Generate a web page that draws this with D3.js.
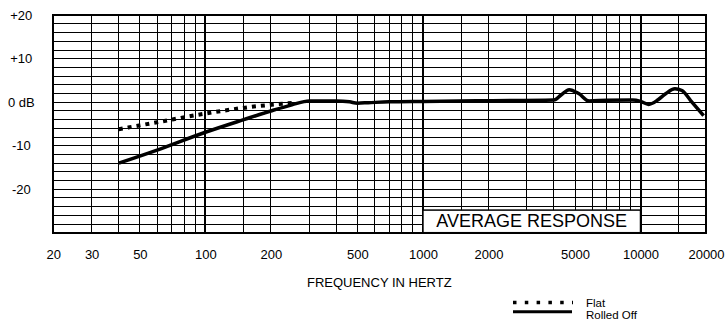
<!DOCTYPE html>
<html>
<head>
<meta charset="utf-8">
<script src="https://cdn.jsdelivr.net/npm/d3@7"></script>
<style>
  body { margin: 0; background: #fff; }
  svg { display: block; font-family: "Liberation Sans", Arial, sans-serif; }
</style>
</head>
<body>
<svg id="chart"></svg>
<script>
// frequency axis labels and grid lines
const freqLabels = [20, 30, 50, 100, 200, 500, 1000, 2000, 5000, 10000, 20000];
const gridFreqs = [20, 30, 40, 50, 60, 70, 80, 90, 100, 150, 200, 300, 400, 500, 600, 700, 800, 900,
  1000, 1500, 2000, 3000, 4000, 5000, 6000, 7000, 8000, 9000, 10000, 15000, 20000];
const majorFreqs = [100, 1000, 10000];

// level axis
const dbTicks = [20, 10, 0, -10, -20];
const dbLabels = ["+20", "+10", "0 dB", "-10", "-20"];

// Flat (dotted)
const flatFreq = [40, 60, 100, 160, 260];
const flatDb = [-6.2, -4.6, -2.6, -1.1, -0.1];

// Rolled Off (solid)
const rolledFreq = [40, 60, 100, 150, 200, 250, 300, 400, 460, 500, 560, 700, 1000, 2000, 4000, 4300,
  4700, 5200, 5800, 7000, 9200, 10000, 10900, 12000, 13000, 14400, 15500, 17000, 19500];
const rolledDb = [-14, -11, -6.9, -4.0, -2.0, -0.6, 0.3, 0.3, 0.1, -0.2, -0.1, 0.1, 0.2, 0.35, 0.5, 1.6,
  2.9, 2.0, 0.3, 0.45, 0.5, 0.2, -0.5, 0.5, 1.9, 3.1, 2.7, 0.4, -3.1];

const svgWidth = 726;
const svgHeight = 328;
const margin = { top: 15.3, right: 20, bottom: 95.3, left: 53.3 };
const width = svgWidth - margin.left - margin.right;
const height = svgHeight - margin.top - margin.bottom;

const svg = d3.select("#chart").attr("width", svgWidth).attr("height", svgHeight);
const g = svg.append("g").attr("transform", "translate(" + margin.left + "," + margin.top + ")");

const xScale = d3.scaleLog().domain([20, 20000]).range([0, width]);
const yScale = d3.scaleLinear().domain([-30, 20]).range([height, 0]);

// horizontal grid, every 2 dB
g.append("g")
  .attr("shape-rendering", "crispEdges")
  .selectAll("line")
  .data(d3.range(-28, 20, 2))
  .join("line")
  .attr("x1", 0)
  .attr("x2", width)
  .attr("y1", (d) => yScale(d))
  .attr("y2", (d) => yScale(d))
  .attr("stroke", "#000")
  .attr("stroke-width", 1);

// vertical grid
g.append("g")
  .attr("shape-rendering", "crispEdges")
  .selectAll("line")
  .data(gridFreqs)
  .join("line")
  .attr("x1", (d) => xScale(d))
  .attr("x2", (d) => xScale(d))
  .attr("y1", 0)
  .attr("y2", height)
  .attr("stroke", "#000")
  .attr("stroke-width", (d) => (majorFreqs.includes(d) ? 2 : 1));

// "AVERAGE RESPONSE" box
const boxTop = -24.8;
g.append("rect")
  .attr("x", xScale(1000))
  .attr("y", yScale(boxTop))
  .attr("width", xScale(10000) - xScale(1000))
  .attr("height", height - yScale(boxTop))
  .attr("fill", "#fff")
  .attr("stroke", "#000")
  .attr("stroke-width", 1.5);
g.append("text")
  .attr("x", (xScale(1000) + xScale(10000)) / 2)
  .attr("y", height - 6)
  .attr("text-anchor", "middle")
  .attr("font-size", 18)
  .text("AVERAGE RESPONSE");

// frame
g.append("rect")
  .attr("width", width)
  .attr("height", height)
  .attr("fill", "none")
  .attr("stroke", "#000")
  .attr("stroke-width", 2)
  .attr("shape-rendering", "crispEdges");

// xAxis labels
const xAxis = g.append("g")
  .attr("transform", "translate(0," + height + ")")
  .call(d3.axisBottom(xScale).tickValues(freqLabels).tickFormat(d3.format("d")).tickSize(0).tickPadding(17));
xAxis.select(".domain").remove();
xAxis.selectAll("text").attr("font-size", 13).attr("font-family", null).attr("fill", "#000");

// yAxis labels
const yAxis = g.append("g")
  .call(d3.axisLeft(yScale).tickValues(dbTicks).tickFormat((d, i) => dbLabels[i]).tickSize(0));
yAxis.select(".domain").remove();
yAxis.selectAll("text")
  .attr("x", -32)
  .attr("text-anchor", "middle")
  .attr("font-size", 13)
  .attr("font-family", null)
  .attr("fill", "#000");

g.append("text")
  .attr("x", 326)
  .attr("y", height + 54)
  .attr("text-anchor", "middle")
  .attr("font-size", 13)
  .text("FREQUENCY IN HERTZ");

// curves
const line = d3.line()
  .x((d) => xScale(d[0]))
  .y((d) => yScale(d[1]))
  .curve(d3.curveMonotoneX);

g.append("path")
  .datum(flatFreq.map((f, i) => [f, flatDb[i]]))
  .attr("fill", "none")
  .attr("stroke", "#000")
  .attr("stroke-width", 4)
  .attr("stroke-dasharray", "4,5")
  .attr("d", line);

g.append("path")
  .datum(rolledFreq.map((f, i) => [f, rolledDb[i]]))
  .attr("fill", "none")
  .attr("stroke", "#000")
  .attr("stroke-width", 3.5)
  .attr("stroke-linejoin", "round")
  .attr("d", line);

// legend
const legend = svg.append("g").attr("transform", "translate(513,0)");
legend.append("line")
  .attr("x1", 0).attr("x2", 60)
  .attr("y1", 302.5).attr("y2", 302.5)
  .attr("stroke", "#000")
  .attr("stroke-width", 3.5)
  .attr("stroke-dasharray", "3.5,8.3");
legend.append("line")
  .attr("x1", 0).attr("x2", 59)
  .attr("y1", 311.7).attr("y2", 311.7)
  .attr("stroke", "#000")
  .attr("stroke-width", 3);
legend.append("text")
  .attr("x", 73).attr("y", 307)
  .attr("font-size", 11.5)
  .text("Flat");
legend.append("text")
  .attr("x", 73).attr("y", 318.5)
  .attr("font-size", 11.5)
  .text("Rolled Off");
</script>
</body>
</html>
